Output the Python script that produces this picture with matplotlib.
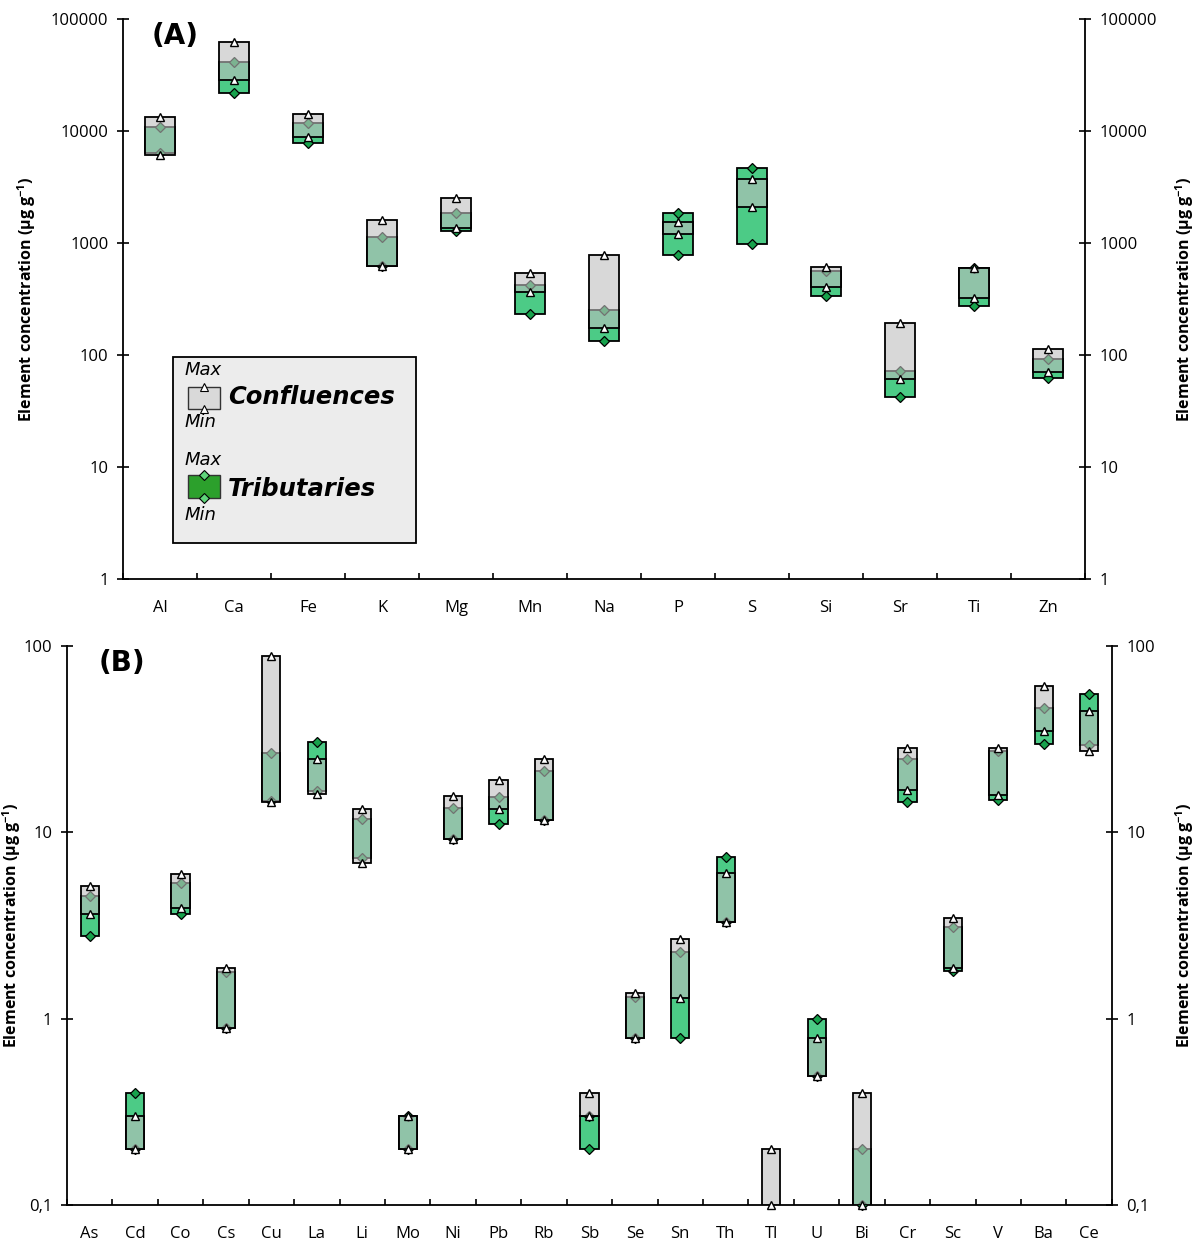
import numpy as np
import matplotlib
matplotlib.use("Agg")
import matplotlib.pyplot as plt
from matplotlib.patches import Rectangle
from matplotlib.ticker import FixedLocator, NullLocator

plt.rcParams['font.family'] = ['Open Sans', 'DejaVu Sans']
plt.rcParams['mathtext.default'] = 'regular'

# Panel A: major elements (ug/g)
elements_a = ['Al', 'Ca', 'Fe', 'K', 'Mg', 'Mn', 'Na', 'P', 'S', 'Si', 'Sr', 'Ti', 'Zn']
conf_min_a = [6150, 28500, 8790, 627, 1352, 363, 175, 1202, 2110, 402, 61, 325, 71]
conf_max_a = [13250, 62300, 14260, 1596, 2505, 540, 776, 1549, 3710, 607, 192, 603, 113]
trib_min_a = [6300, 22000, 7870, 620, 1280, 232, 132, 776, 980, 339, 42.5, 274, 62]
trib_max_a = [10900, 41600, 11850, 1125, 1866, 422, 252, 1841, 4680, 562, 72.5, 600, 93]

# Panel B: trace elements (ug/g)
elements_b = ['As', 'Cd', 'Co', 'Cs', 'Cu', 'La', 'Li', 'Mo', 'Ni', 'Pb', 'Rb', 'Sb',
              'Se', 'Sn', 'Th', 'Tl', 'U', 'Bi', 'Cr', 'Sc', 'V', 'Ba', 'Ce']
conf_min_b = [3.63, 0.2, 3.91, 0.894, 14.6, 16.0, 6.82, 0.2, 9.2, 13.3, 11.6, 0.3,
              0.79, 1.29, 3.31, 0.1, 0.49, 0.1, 16.9, 1.87, 15.8, 35.1, 27.4]
conf_max_b = [5.15, 0.3, 5.96, 1.88, 88.7, 24.7, 13.4, 0.3, 15.7, 19.0, 24.7, 0.4,
              1.38, 2.67, 6.03, 0.2, 0.79, 0.4, 28.2, 3.45, 28.4, 61, 44.8]
trib_min_b = [2.77, 0.2, 3.63, 0.89, 14.8, 16.7, 7.3, 0.2, 9.2, 11.1, 11.7, 0.2,
              0.79, 0.79, 3.3, np.nan, 0.49, 0.1, 14.6, 1.8, 14.9, 29.8, 29.4]
trib_max_b = [4.55, 0.4, 5.32, 1.79, 26.5, 30.5, 11.8, 0.3, 13.5, 15.4, 21.3, 0.3,
              1.31, 2.28, 7.34, np.nan, 1.0, 0.2, 24.7, 3.09, 27.4, 46.7, 55.2]

yticks_a = [1, 10, 100, 1000, 10000, 100000]
ylabels_a = ['1', '10', '100', '1000', '10000', '100000']
yticks_b = [0.1, 1, 10, 100]
ylabels_b = ['0,1', '1', '10', '100']

TRIB_COLOR = '#4ccb86'
TRIB_MARK = '#17a24c'
CONF_COLOR = '#bfbfbf'
YLABEL = 'Element concentration (µg g$^{-1}$)'


def draw_panel(ax, elements, cmin, cmax, tmin, tmax, yticks, ylabels, tag, lx, rx):
    x = np.arange(len(elements)) + 0.5
    cmin, cmax = np.array(cmin, float), np.array(cmax, float)
    tmin, tmax = np.array(tmin, float), np.array(tmax, float)
    ok = ~np.isnan(tmin)

    # tributaries first, then the translucent confluence bars on top
    ax.bar(x[ok], tmax[ok] - tmin[ok], bottom=tmin[ok], width=0.4,
           color=TRIB_COLOR, edgecolor='black', linewidth=1.3, zorder=2)
    ax.plot(x[ok], tmax[ok], 'D', ms=5, mfc=TRIB_MARK, mec='black', mew=0.9,
            ls='none', zorder=3, clip_on=False)
    ax.plot(x[ok], tmin[ok], 'D', ms=5, mfc=TRIB_MARK, mec='black', mew=0.9,
            ls='none', zorder=3, clip_on=False)
    ax.bar(x, cmax - cmin, bottom=cmin, width=0.4, color=CONF_COLOR, alpha=0.6,
           edgecolor='none', zorder=4)
    ax.bar(x, cmax - cmin, bottom=cmin, width=0.4, fill=False,
           edgecolor='black', linewidth=1.3, zorder=5)
    ax.plot(x, cmax, '^', ms=6, mfc='white', mec='black', mew=1.0,
            ls='none', zorder=6, clip_on=False)
    ax.plot(x, cmin, '^', ms=6, mfc='white', mec='black', mew=1.0,
            ls='none', zorder=6, clip_on=False)

    ax.set_yscale('log')
    ax.set_ylim(yticks[0], yticks[-1])
    ax.set_xlim(0, len(elements))
    ax.yaxis.set_major_locator(FixedLocator(yticks))
    ax.yaxis.set_minor_locator(NullLocator())
    ax.set_yticklabels(ylabels)
    ax.set_xticks(x)
    ax.set_xticklabels(elements)
    ax.set_xticks(np.arange(len(elements) + 1), minor=True)
    ax.tick_params(axis='x', which='major', length=0, labelsize=12, pad=15)
    ax.tick_params(axis='x', which='minor', direction='in', length=4, width=1.2)
    ax.tick_params(axis='y', which='major', direction='inout', length=9,
                   width=1.2, labelsize=12, pad=6)
    for s in ['top', 'right']:
        ax.spines[s].set_visible(False)
    for s in ['left', 'bottom']:
        ax.spines[s].set_linewidth(1.3)
    ax.set_ylabel(YLABEL, fontsize=11.5, fontweight='bold', va='center')
    ax.yaxis.set_label_coords(lx, 0.5)
    ax.text(0.03, 0.995, tag, transform=ax.transAxes, fontsize=20,
            fontweight='bold', va='top', ha='left', family='DejaVu Sans')

    tw = ax.twinx()
    tw.set_yscale('log')
    tw.set_ylim(yticks[0], yticks[-1])
    tw.yaxis.set_major_locator(FixedLocator(yticks))
    tw.yaxis.set_minor_locator(NullLocator())
    tw.set_yticklabels(ylabels)
    tw.tick_params(axis='y', which='major', direction='inout', length=9,
                   width=1.2, labelsize=12, pad=6)
    for s in ['top', 'left', 'bottom']:
        tw.spines[s].set_visible(False)
    tw.spines['right'].set_linewidth(1.3)
    tw.set_ylabel(YLABEL, fontsize=11.5, fontweight='bold', rotation=90, va='center')
    tw.yaxis.set_label_coords(rx, 0.5)
    return ax


fig = plt.figure(figsize=(12, 12.47), dpi=100)
ax_a = fig.add_axes([0.1025, 0.5357, 0.8017, 0.4491])
ax_b = fig.add_axes([0.0558, 0.0337, 0.8708, 0.4483])

draw_panel(ax_a, elements_a, conf_min_a, conf_max_a, trib_min_a, trib_max_a,
           yticks_a, ylabels_a, '(A)', -0.0998, 1.104)
draw_panel(ax_b, elements_b, conf_min_b, conf_max_b, trib_min_b, trib_max_b,
           yticks_b, ylabels_b, '(B)', -0.0526, 1.0699)

# hand-made legend inside panel A
t = ax_a.transAxes
ax_a.add_patch(Rectangle((0.052, 0.0643), 0.2526, 0.3321, transform=t,
                         facecolor='#ececec', edgecolor='black', lw=1.3, zorder=7))
ax_a.add_patch(Rectangle((0.0676, 0.3036), 0.0329, 0.0394, transform=t,
                         facecolor='#d9d9d9', edgecolor='#333333', lw=1.0, zorder=8))
ax_a.plot([0.0837, 0.0837], [0.343, 0.3036], '^', ms=6, mfc='white', mec='black',
          mew=0.8, ls='none', transform=t, zorder=9)
ax_a.add_patch(Rectangle((0.0676, 0.1446), 0.0329, 0.0411, transform=t,
                         facecolor='#2ca02c', edgecolor='#333333', lw=1.0, zorder=8))
ax_a.plot([0.0837, 0.0837], [0.1857, 0.1446], 'D', ms=5, mfc='#5fd67a', mec='black',
          mew=0.8, ls='none', transform=t, zorder=9)
leg_font = dict(transform=t, family='DejaVu Sans', zorder=9, va='center', ha='left')
ax_a.text(0.064, 0.373, 'Max', fontsize=13, style='italic', **leg_font)
ax_a.text(0.064, 0.280, 'Min', fontsize=13, style='italic', **leg_font)
ax_a.text(0.109, 0.325, 'Confluences', fontsize=17.5, style='italic',
          fontweight='bold', **leg_font)
ax_a.text(0.064, 0.2125, 'Max', fontsize=13, style='italic', **leg_font)
ax_a.text(0.064, 0.1143, 'Min', fontsize=13, style='italic', **leg_font)
ax_a.text(0.109, 0.1607, 'Tributaries', fontsize=17.5, style='italic',
          fontweight='bold', **leg_font)

fig.savefig('out.png', dpi=100)
